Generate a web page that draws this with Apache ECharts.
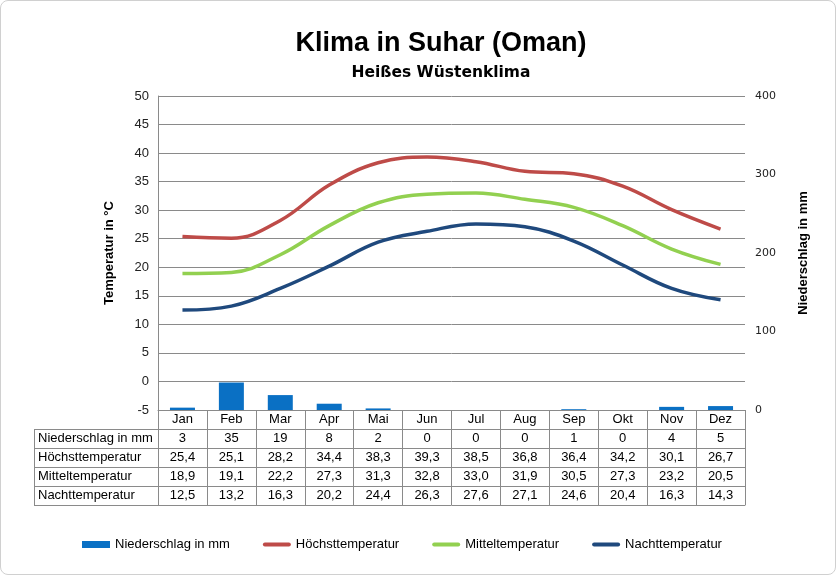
<!DOCTYPE html>
<html>
<head>
<meta charset="utf-8">
<script src="https://cdn.jsdelivr.net/npm/echarts@6/dist/echarts.min.js"></script>
<style>
html,body{margin:0;padding:0;background:#fff;}
#wrap{width:836px;height:575px;box-sizing:border-box;border:1px solid #d0d0d0;border-radius:8px;overflow:hidden;}
#chart{width:834px;height:573px;}
</style>
</head>
<body>
<div id="wrap"><div id="chart"></div></div>
<script>
var months = ['Jan','Feb','Mar','Apr','Mai','Jun','Jul','Aug','Sep','Okt','Nov','Dez'];
var niederschlag = [3,35,19,8,2,0,0,0,1,0,4,5];
var hoechst = [25.4,25.1,28.2,34.4,38.3,39.3,38.5,36.8,36.4,34.2,30.1,26.7];
var mittel = [18.9,19.1,22.2,27.3,31.3,32.8,33.0,31.9,30.5,27.3,23.2,20.5];
var nacht = [12.5,13.2,16.3,20.2,24.4,26.3,27.6,27.1,24.6,20.4,16.3,14.3];
var rowLabels = ['Niederschlag in mm','Höchsttemperatur','Mitteltemperatur','Nachttemperatur'];
var tempTicks = {min:-5, max:50, interval:5};
var rainTicks = {min:0, max:400, interval:100};

var FONT = 'Liberation Sans, Arial, sans-serif';
var GRID = {left:157, right:90, top:95, bottom:164};
var ROW = 19;
var LINE = '#8a8a8a';

function fmt(v){ return v.toFixed(1).replace('.', ','); }

function tableAxis(data, idx){
  return {
    type:'category', gridIndex:0, position:'bottom', offset: idx*ROW,
    data: data, boundaryGap:true,
    axisLine:{show:true, onZero:false, lineStyle:{color:LINE, width:1}},
    axisTick:{show:true, length:ROW, interval:0, lineStyle:{color:LINE}},
    axisLabel:{show:true, interval:0, margin:3, fontSize:13, color:'#000', fontFamily:FONT},
    splitLine:{show:false}
  };
}

var chart = echarts.init(document.getElementById('chart'));
var xAxes = [
  tableAxis(months,0),
  tableAxis(niederschlag.map(String),1),
  tableAxis(hoechst.map(fmt),2),
  tableAxis(mittel.map(fmt),3),
  tableAxis(nacht.map(fmt),4)
];
var last = tableAxis(months,5);
last.axisTick = {show:false}; last.axisLabel = {show:false};
xAxes.push(last);

var tableTop = 573 - GRID.bottom; // plot bottom in chart coords
var graphics = [];
for (var i=0;i<=4;i++){
  graphics.push({type:'line', shape:{x1:33, y1:tableTop+ROW*(i+1)+0.5, x2:GRID.left, y2:tableTop+ROW*(i+1)+0.5}, style:{stroke:LINE, lineWidth:1}});
}
graphics.push({type:'line', shape:{x1:33.5, y1:tableTop+ROW, x2:33.5, y2:tableTop+ROW*5}, style:{stroke:LINE, lineWidth:1}});
rowLabels.forEach(function(t,i){
  graphics.push({type:'text', left:37, top:tableTop+ROW*(i+1)+3, style:{text:t, fontSize:13, fontFamily:FONT, fill:'#000'}});
});

chart.setOption({
  animation:false,
  textStyle:{fontFamily:FONT},
  title:{
    text:'Klima in Suhar (Oman)', subtext:'Heißes Wüstenklima',
    left:435, textAlign:'center', top:24, itemGap:8,
    textStyle:{fontSize:27, fontWeight:'bold', color:'#000', fontFamily:FONT},
    subtextStyle:{fontSize:15.5, fontWeight:'bold', color:'#000', fontFamily:'DejaVu Sans, sans-serif'}
  },
  grid:GRID,
  legend:{
    left:76, top:532, itemWidth:28, itemHeight:7, itemGap:33,
    textStyle:{fontSize:13, color:'#000', fontFamily:FONT},
    data:[
      {name:'Niederschlag in mm', icon:'rect'},
      {name:'Höchsttemperatur', icon:'path://M2,0L26,0A2,2,0,0,1,26,4L2,4A2,2,0,0,1,2,0Z'},
      {name:'Mitteltemperatur', icon:'path://M2,0L26,0A2,2,0,0,1,26,4L2,4A2,2,0,0,1,2,0Z'},
      {name:'Nachttemperatur', icon:'path://M2,0L26,0A2,2,0,0,1,26,4L2,4A2,2,0,0,1,2,0Z'}
    ]
  },
  xAxis:xAxes,
  yAxis:[
    {type:'value', min:tempTicks.min, max:tempTicks.max, interval:tempTicks.interval, position:'left',
     name:'Temperatur in °C', nameLocation:'middle', nameGap:42, nameRotate:90,
     nameTextStyle:{fontSize:13, fontWeight:'bold', color:'#000', fontFamily:FONT},
     axisLine:{show:true, lineStyle:{color:LINE}}, axisTick:{show:false},
     axisLabel:{fontSize:13, color:'#222', margin:9, fontFamily:FONT},
     splitLine:{show:true, lineStyle:{color:LINE, width:1}}},
    {type:'value', min:rainTicks.min, max:rainTicks.max, interval:rainTicks.interval, position:'right',
     name:'Niederschlag in mm', nameLocation:'middle', nameGap:52, nameRotate:90,
     nameTextStyle:{fontSize:13, fontWeight:'bold', color:'#000', fontFamily:FONT},
     axisLine:{show:false}, axisTick:{show:false},
     axisLabel:{fontSize:11, color:'#222', margin:10, fontFamily:'DejaVu Sans, sans-serif'},
     splitLine:{show:false}}
  ],
  series:[
    {name:'Niederschlag in mm', type:'bar', xAxisIndex:0, yAxisIndex:1, data:niederschlag, barWidth:25,
     itemStyle:{color:'#0A70C4'}},
    {name:'Höchsttemperatur', type:'line', xAxisIndex:0, yAxisIndex:0, data:hoechst, smooth:0.4, symbol:'none',
     lineStyle:{width:3.5, color:'#BE4B48'}, itemStyle:{color:'#BE4B48'}},
    {name:'Mitteltemperatur', type:'line', xAxisIndex:0, yAxisIndex:0, data:mittel, smooth:0.4, symbol:'none',
     lineStyle:{width:3.5, color:'#92D050'}, itemStyle:{color:'#92D050'}},
    {name:'Nachttemperatur', type:'line', xAxisIndex:0, yAxisIndex:0, data:nacht, smooth:0.4, symbol:'none',
     lineStyle:{width:3.5, color:'#1F497D'}, itemStyle:{color:'#1F497D'}}
  ],
  graphic:graphics
});
</script>
</body>
</html>
